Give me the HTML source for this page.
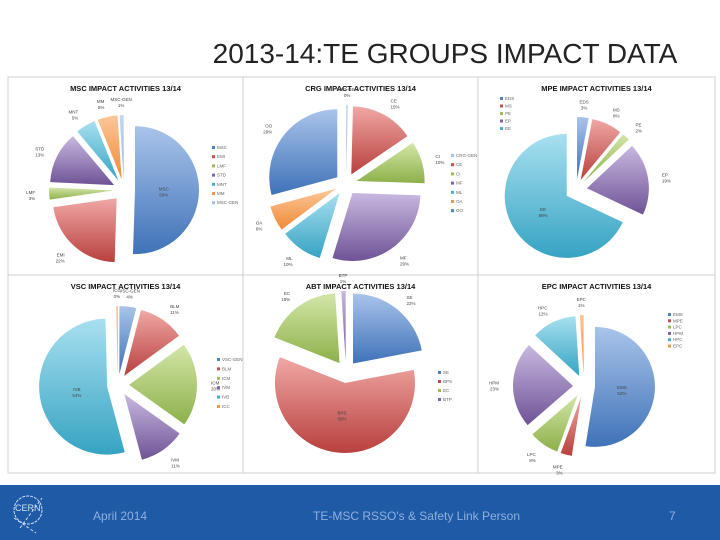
<!DOCTYPE html>
<html><head><meta charset="utf-8"><style>
body{margin:0;width:720px;height:540px;background:#fff;position:relative;overflow:hidden;font-family:"Liberation Sans",sans-serif}
#title{position:absolute;left:0;width:890px;text-align:center;top:38px;font-size:28px;color:#222}
#footer{position:absolute;left:0;top:485px;width:720px;height:55px;background:#1f5aa6}
.ft{position:absolute;color:#8fb0e0;font-size:12px;top:24px}
</style></head><body>
<div id="title">2013-14:TE GROUPS IMPACT DATA</div>
<svg id="charts" width="720" height="485" style="position:absolute;left:0;top:0">
<defs id="defs"></defs>
</svg>
<div id="footer">
<svg width="50" height="50" style="position:absolute;left:6px;top:3px">
<circle cx="22" cy="22" r="14" fill="none" stroke="#cfe0f5" stroke-width="1" stroke-dasharray="3 1"/>
<text x="9" y="23" font-size="9" fill="#cfe0f5" font-family="Liberation Sans">CERN</text>
<path d="M14 40 L36 10 M8 30 L30 45" stroke="#cfe0f5" stroke-width="1" fill="none" stroke-dasharray="3 2"/>
</svg>
<div class="ft" style="left:93px">April 2014</div>
<div class="ft" style="left:313px">TE-MSC RSSO's &amp; Safety Link Person</div>
<div class="ft" style="left:669px">7</div>
</div>
<script>
const mscCats=["MSC","EMI","LMF","STD","MNT","MM","MSC-GEN"];
const mscVals=[50,22,3,13,5,5,1];
const crgCats=["CRG-GEN","CE","CI","MF","ML","OA","OO"];
const crgVals=[0.4,15,10,29,10,6,29];
const mpeCats=["EDS","MS","PE","EP","EE"];
const mpeVals=[3,8,2,19,68];
const vscCats=["VSC-GEN","BLM","ICM","IVM","IVB","ICC"];
const vscVals=[4,11,20,11,54,0.4];
const abtCats=["SE","BPS","EC","BTP"];
const abtVals=[22,59,18,1];
const epcCats=["EMS","MPE","LPC","HPM","HPC","EPC"];
const epcVals=[52,3,8,23,12,1];

const COLORS=[["#a9c4ea","#3f72b8"],["#f0a8a6","#b8403d"],["#d3e6a8","#8db04a"],["#c8b8e0","#6f5396"],["#a8e0f0","#36a3c2"],["#fbc79a","#ef8a36"],["#c6d8f0","#8fb0dc"]];
const NS="http://www.w3.org/2000/svg";
const svg=document.getElementById('charts');
const defs=document.getElementById('defs');
COLORS.forEach((c,i)=>{const g=document.createElementNS(NS,'linearGradient');g.setAttribute('id','g'+i);g.setAttribute('x1','0');g.setAttribute('y1','0');g.setAttribute('x2','0');g.setAttribute('y2','1');
g.innerHTML='<stop offset="0" stop-color="'+c[0]+'"/><stop offset="1" stop-color="'+c[1]+'"/>';defs.appendChild(g);});
const LEG_COL=["#4f81bd","#c0504d","#9bbb59","#8064a2","#4bacc6","#f79646","#a6c0e6"];

function txt(x,y,s,size,fill,anchor,weight,name){const t=document.createElementNS(NS,'text');t.setAttribute('x',x);t.setAttribute('y',y);t.setAttribute('font-size',size);t.setAttribute('fill',fill);t.setAttribute('text-anchor',anchor||'start');if(weight)t.setAttribute('font-weight',weight);t.setAttribute('font-family','Liberation Sans');t.textContent=s;


svg.appendChild(t);return t;}

function panel(px,py,w,h,title,cats,vals,cx,cy,r,colorIdx,leg,key){
 const rect=document.createElementNS(NS,'rect');rect.setAttribute('x',px);rect.setAttribute('y',py);rect.setAttribute('width',w);rect.setAttribute('height',h);rect.setAttribute('fill','#fff');rect.setAttribute('stroke','#d0d0d0');
 
 
 svg.appendChild(rect);
 txt(px+w/2,py+14,title,7.5,'#111','middle','bold',key+'-title');
 const tot=vals.reduce((a,b)=>a+b,0);let a=0;const ex=11;
 vals.forEach((v,i)=>{const a0=a/tot*2*Math.PI;a+=v;const a1=a/tot*2*Math.PI;const mid=(a0+a1)/2;
  const ox=cx+ex*Math.sin(mid),oy=cy-ex*Math.cos(mid);
  const x0=ox+r*Math.sin(a0),y0=oy-r*Math.cos(a0),x1=ox+r*Math.sin(a1),y1=oy-r*Math.cos(a1);
  const p=document.createElementNS(NS,'path');
  p.setAttribute('d','M'+ox+' '+oy+' L'+x0+' '+y0+' A'+r+' '+r+' 0 '+((a1-a0)>Math.PI?1:0)+' 1 '+x1+' '+y1+' Z');
  p.setAttribute('fill','url(#g'+colorIdx[i]+')');
  
  
  svg.appendChild(p);
  const pct=Math.round(v)+'%';
  let lx,ly,anc;
  if(v/tot>0.4){lx=ox+r*0.45*Math.sin(mid);ly=oy-r*0.45*Math.cos(mid);anc='middle';}
  else{lx=ox+(r+14)*Math.sin(mid);ly=oy-(r+14)*Math.cos(mid);anc=Math.sin(mid)>0.2?'start':(Math.sin(mid)<-0.2?'end':'middle');}
  txt(lx,ly,cats[i],4.5,'#444',anc,null,key+'-label-'+cats[i].toLowerCase());
  txt(lx,ly+6,pct,4.5,'#444',anc,null,key+'-pct-'+cats[i].toLowerCase());
 });
 cats.forEach((c,i)=>{const s=document.createElementNS(NS,'rect');s.setAttribute('x',leg[0]);s.setAttribute('y',leg[1]+i*leg[2]-3);s.setAttribute('width',3);s.setAttribute('height',3);s.setAttribute('fill',LEG_COL[colorIdx[i]]);
  
  
  svg.appendChild(s);
  txt(leg[0]+5,leg[1]+i*leg[2],c,4.5,'#666','start',null,key+'-legend-entry');});
}
panel(8,77,235,198,"MSC IMPACT ACTIVITIES 13/14",mscCats,mscVals,124,190,64,[0,1,2,3,4,5,6],[212,149,9.2],'msc');
panel(243,77,235,198,"CRG IMPACT ACTIVITIES 13/14",crgCats,crgVals,346,184,68,[6,1,2,3,4,5,0],[451,157,9.2],'crg');
panel(478,77,237,198,"MPE IMPACT ACTIVITIES 13/14",mpeCats,mpeVals,576,190,62,[0,1,2,3,4],[500,100,7.5],'mpe');
panel(8,275,235,198,"VSC  IMPACT ACTIVITIES 13/14",vscCats,vscVals,118,385,68,[0,1,2,3,4,5],[217,361,9.4],'vsc');
panel(243,275,235,198,"ABT IMPACT ACTIVITIES 13/14",abtCats,abtVals,346,372,70,[0,1,2,3],[438,374,9],'abt');
panel(478,275,237,198,"EPC IMPACT ACTIVITIES 13/14",epcCats,epcVals,584,386,60,[0,1,2,3,4,5],[668,316,6.3],'epc');
</script>
</body></html>
